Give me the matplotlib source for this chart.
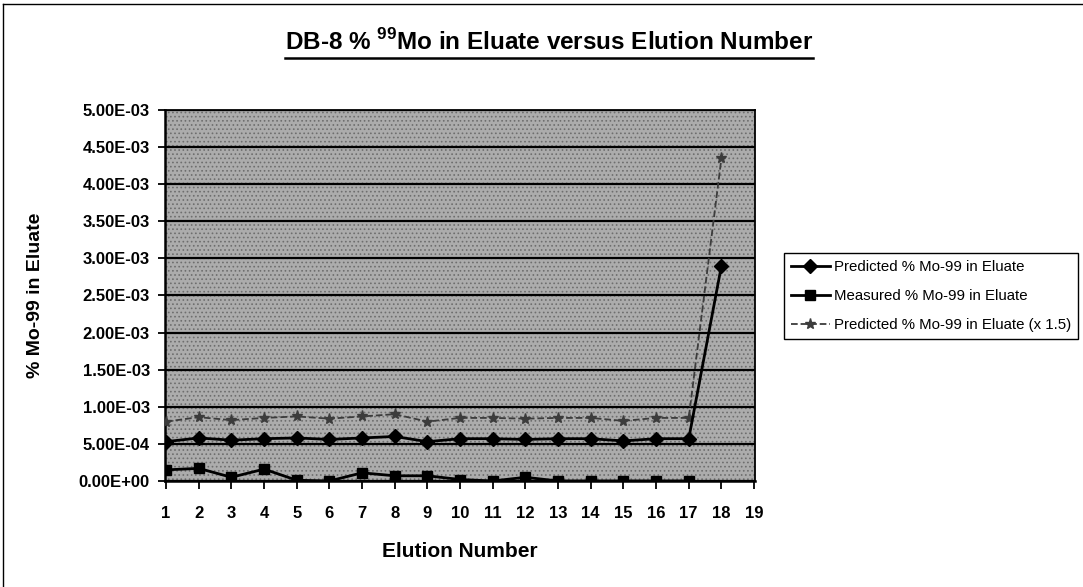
import matplotlib
matplotlib.use("Agg")
import matplotlib.pyplot as plt
from matplotlib.lines import Line2D
from matplotlib.patches import Rectangle
from matplotlib.ticker import FuncFormatter

plt.rcParams['font.family'] = ['Liberation Sans', 'DejaVu Sans']
plt.rcParams['mathtext.fontset'] = 'custom'
plt.rcParams['mathtext.rm'] = 'Liberation Sans:bold'
plt.rcParams['mathtext.bf'] = 'Liberation Sans:bold'
plt.rcParams['hatch.color'] = '#6e6e6e'
plt.rcParams['hatch.linewidth'] = 0.7

elution = list(range(1, 19))
predicted = [5.3e-4, 5.8e-4, 5.5e-4, 5.7e-4, 5.8e-4, 5.6e-4, 5.8e-4, 6.0e-4, 5.3e-4,
             5.7e-4, 5.7e-4, 5.6e-4, 5.7e-4, 5.7e-4, 5.4e-4, 5.7e-4, 5.7e-4, 2.9e-3]
predicted_x15 = [8.0e-4, 8.6e-4, 8.2e-4, 8.5e-4, 8.7e-4, 8.4e-4, 8.7e-4, 9.0e-4, 8.0e-4,
                 8.5e-4, 8.5e-4, 8.4e-4, 8.5e-4, 8.5e-4, 8.1e-4, 8.5e-4, 8.5e-4, 4.35e-3]
measured_x = list(range(1, 18))
measured = [1.5e-4, 1.7e-4, 5e-5, 1.6e-4, 1e-5, 0.0, 1.1e-4, 7e-5, 7e-5,
            2e-5, 0.0, 5e-5, 0.0, 0.0, 0.0, 0.0, 0.0]
xticks = list(range(1, 20))
yticks = [i * 5e-4 for i in range(11)]

fig = plt.figure(figsize=(10.83, 5.87), dpi=100)
ax = fig.add_axes([0.1524, 0.1806, 0.5448, 0.632])
ax.set_facecolor('#acacac')
# stippled plot-area fill, like the scanned original
ax.add_patch(Rectangle((0, 0), 1, 1, transform=ax.transAxes, facecolor='none',
                       hatch='....', lw=0, zorder=0.5))

ax.plot(elution, predicted, color='black', lw=2, marker='D', ms=7,
        label='Predicted % Mo-99 in Eluate', zorder=4)
ax.plot(measured_x, measured, color='black', lw=2, marker='s', ms=7,
        label='Measured % Mo-99 in Eluate', zorder=4)
ax.plot(elution, predicted_x15, color='#3c3c3c', lw=1.3, ls='--', marker='*', ms=8,
        label='Predicted % Mo-99 in Eluate (x 1.5)', zorder=3)

ax.set_xlim(0.97, 19.03)
ax.set_ylim(0, 5e-3)
ax.set_xticks(xticks)
ax.set_yticks(yticks)
ax.yaxis.set_major_formatter(FuncFormatter(lambda v, p: f"{v:.2E}"))
ax.grid(axis='y', color='black', lw=1.6, zorder=1)
ax.set_axisbelow(True)
ax.tick_params(axis='y', direction='out', length=5, width=1.3, labelsize=12, pad=6)
ax.tick_params(axis='x', direction='out', length=6, width=1.3, labelsize=12, pad=12)
for lab in ax.get_xticklabels() + ax.get_yticklabels():
    lab.set_fontweight('bold')
for s in ax.spines.values():
    s.set_color('black')
    s.set_linewidth(1.3)
ax.spines['left'].set_linewidth(1.8)
ax.spines['bottom'].set_linewidth(1.8)

ax.set_xlabel('Elution Number', fontsize=15, fontweight='bold')
ax.xaxis.set_label_coords(0.5, -0.19)
ax.xaxis.label.set_va('center')
ax.set_ylabel('% Mo-99 in Eluate', fontsize=14, fontweight='bold')
ax.yaxis.set_label_coords(-0.22, 0.5)
ax.yaxis.label.set_va('center')

title = fig.text(549 / 1083, 1 - 50 / 587, r'DB-8 % $^{99}$Mo in Eluate versus Elution Number',
                 ha='center', va='baseline', fontsize=17.5, fontweight='bold')
fig.canvas.draw()
bb = title.get_window_extent().transformed(fig.transFigure.inverted())
uy = 1 - 58 / 587
fig.add_artist(Line2D([bb.x0, bb.x1], [uy, uy], color='black', lw=1.8))

fig.legend(loc='upper left', bbox_to_anchor=(784 / 1083, 1 - 253 / 587), fontsize=10.8,
           frameon=True, fancybox=False, edgecolor='black', framealpha=1,
           borderpad=0.45, handlelength=2.6, handletextpad=0.3, labelspacing=1.0,
           borderaxespad=0)

fig.add_artist(Line2D([0.003, 0.003], [0, 0.993], color='black', lw=1))
fig.add_artist(Line2D([0.003, 1], [0.993, 0.993], color='black', lw=1))

fig.savefig('out.png', dpi=100)
